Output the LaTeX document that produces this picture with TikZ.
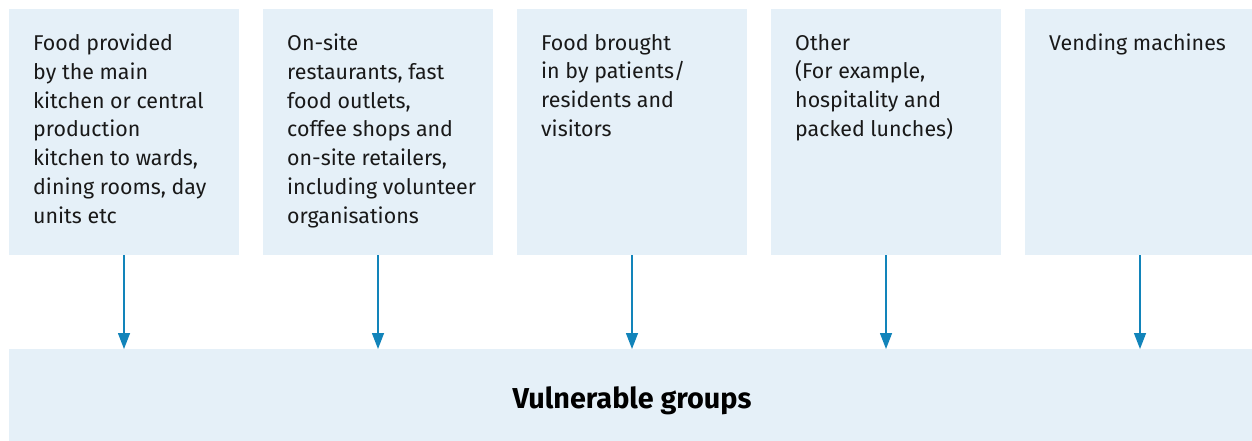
\documentclass[tikz,border=0pt]{standalone}
\usepackage{fontspec}
\setmainfont{Fira Sans}
\usetikzlibrary{arrows.meta}
\definecolor{boxfill}{HTML}{E5F0F8}
\definecolor{arrowblue}{HTML}{1284BA}
\begin{document}
\begin{tikzpicture}[x=1pt,y=-1pt,
  srcbox/.style={rectangle,fill=boxfill,draw=none,inner sep=0pt,anchor=north west,minimum width=230pt,minimum height=246pt},
  srctext/.style={anchor=north west,inner sep=0pt,align=left,font=\fontsize{21.4}{28.7}\selectfont,text=black!90},
  arr/.style={draw=arrowblue,line width=1.4pt,-{Triangle[length=16pt,width=12pt]}}]
\useasboundingbox (0,0) rectangle (1252,441);
\node[srcbox] (b1) at (9,9) {};
\node[srcbox] (b2) at (263,9) {};
\node[srcbox] (b3) at (517,9) {};
\node[srcbox] (b4) at (771,9) {};
\node[srcbox,minimum width=227pt] (b5) at (1025,9) {};
\node[rectangle,fill=boxfill,inner sep=0pt,anchor=north west,minimum width=1243pt,minimum height=92pt] (v) at (9,349) {};
\node[font=\fontsize{28.8}{32}\selectfont\bfseries,anchor=base,inner sep=0pt] (vt) at (632,408) {Vulnerable groups};
\node[srctext] (t1) at (33,34) {Food provided\\by the main\\kitchen or central\\production\\kitchen to wards,\\dining rooms, day\\units etc};
\node[srctext] (t2) at (287,34) {On-site\\restaurants, fast\\food outlets,\\coffee shops and\\on-site retailers,\\including volunteer\\organisations};
\node[srctext] (t3) at (541,34) {Food brought\\in by patients/\\residents and\\visitors};
\node[srctext] (t4) at (795,34) {Other\\(For example,\\hospitality and\\packed lunches)};
\node[srctext] (t5) at (1049,34) {Vending machines};
\foreach \i/\x in {1/124,2/378,3/632,4/886,5/1140}{
  \draw[arr] (b\i.south -| \x,0) -- (\x,349);
}
\end{tikzpicture}
\end{document}
